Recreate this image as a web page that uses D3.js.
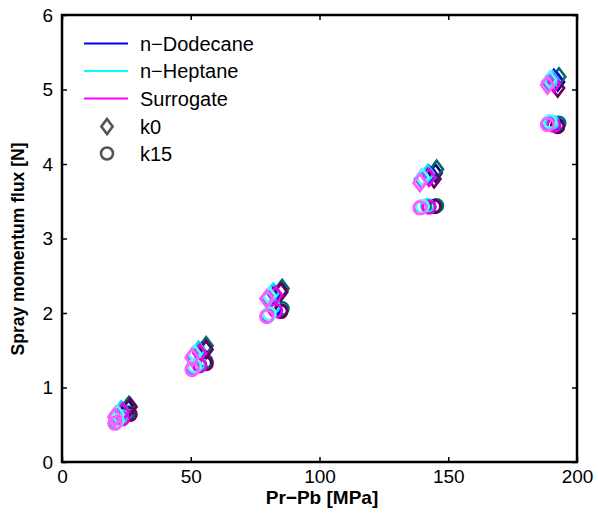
<!DOCTYPE html>
<html><head><meta charset="utf-8">
<script src="https://cdn.jsdelivr.net/npm/d3@7"></script>
<style>body{margin:0;background:#fff}svg{display:block;font-family:"Liberation Sans",Arial,sans-serif}</style>
</head><body><svg id="c" width="598" height="524"></svg>
<script>
// Fuels and shade levels (each level = one back-pressure condition)
const fuels = ["n-Dodecane", "n-Heptane", "Surrogate"];
const levels = ["dark", "mid", "light"];
const colors = {
  "n-Dodecane": {dark: "#000080", mid: "#0000ff", light: "#6f6fff"},
  "n-Heptane":  {dark: "#006a6a", mid: "#00e8e8", light: "#5ff5ff"},
  "Surrogate":  {dark: "#66005f", mid: "#ee00ee", light: "#ff5cff"}
};
// Pr-Pb [MPa] per level and fuel
const pressure = {
  dark:  {"n-Dodecane": [25.5, 55.5, 85.0, 145.0, 192.5], "n-Heptane": [26.0, 56.0, 85.5, 145.5, 193.0], "Surrogate": [26.5, 56.0, 85.0, 144.5, 192.5]},
  mid:   {"n-Dodecane": [23.5, 53.5, 82.5, 142.5, 191.0], "n-Heptane": [23.0, 53.0, 82.0, 142.0, 190.5], "Surrogate": [23.5, 53.5, 83.0, 142.5, 191.0]},
  light: {"n-Dodecane": [21.0, 51.0, 80.0, 139.5, 189.0], "n-Heptane": [21.5, 51.5, 80.5, 140.0, 189.5], "Surrogate": [20.5, 50.5, 79.5, 139.0, 188.5]}
};
// Spray momentum flux [N], model k0 (diamonds)
const fluxK0 = {
  dark:  {"n-Dodecane": [0.73, 1.53, 2.30, 3.88, 5.10], "n-Heptane": [0.76, 1.56, 2.33, 3.93, 5.17], "Surrogate": [0.74, 1.51, 2.28, 3.80, 5.02]},
  mid:   {"n-Dodecane": [0.68, 1.48, 2.25, 3.86, 5.15], "n-Heptane": [0.70, 1.50, 2.28, 3.87, 5.13], "Surrogate": [0.67, 1.46, 2.24, 3.82, 5.08]},
  light: {"n-Dodecane": [0.63, 1.43, 2.20, 3.80, 5.10], "n-Heptane": [0.64, 1.45, 2.23, 3.82, 5.13], "Surrogate": [0.60, 1.40, 2.19, 3.75, 5.06]}
};
// Spray momentum flux [N], model k15 (circles)
const fluxK15 = {
  dark:  {"n-Dodecane": [0.65, 1.33, 2.03, 3.43, 4.52], "n-Heptane": [0.66, 1.35, 2.06, 3.44, 4.55], "Surrogate": [0.64, 1.32, 2.02, 3.43, 4.50]},
  mid:   {"n-Dodecane": [0.60, 1.30, 2.06, 3.43, 4.54], "n-Heptane": [0.61, 1.32, 2.09, 3.44, 4.56], "Surrogate": [0.58, 1.29, 2.03, 3.42, 4.52]},
  light: {"n-Dodecane": [0.55, 1.27, 1.97, 3.42, 4.55], "n-Heptane": [0.56, 1.29, 1.99, 3.43, 4.57], "Surrogate": [0.52, 1.24, 1.95, 3.41, 4.53]}
};
const xTicks = [0, 50, 100, 150, 200];
const yTicks = [0, 1, 2, 3, 4, 5, 6];
const legendLines = ["n-Dodecane", "n-Heptane", "Surrogate"];
const legendMarkers = ["k0", "k15"];

const svg = d3.select("#c");
const L = 62, R = 577, T = 15, B = 462;
const x = d3.scaleLinear().domain([0, 200]).range([L, R]);
const y = d3.scaleLinear().domain([0, 6]).range([B, T]);

// points
const pts = [];
levels.forEach(lv => fuels.forEach(f => {
  pressure[lv][f].forEach((p, i) => {
    pts.push({m: "d", x: p, y: fluxK0[lv][f][i], c: colors[f][lv]});
    pts.push({m: "o", x: p, y: fluxK15[lv][f][i], c: colors[f][lv]});
  });
}));
const g = svg.append("g");
const diamond = (cx, cy, s) => `M${cx},${cy - s}L${cx + s * 0.75},${cy}L${cx},${cy + s}L${cx - s * 0.75},${cy}Z`;
pts.forEach(d => {
  if (d.m === "d") {
    g.append("path").attr("d", diamond(x(d.x), y(d.y), 8.5))
      .attr("fill", "none").attr("stroke", d.c).attr("stroke-width", 2.6);
  } else {
    g.append("circle").attr("cx", x(d.x)).attr("cy", y(d.y)).attr("r", 6.3)
      .attr("fill", "none").attr("stroke", d.c).attr("stroke-width", 2.6);
  }
});

// axes
svg.append("g").attr("transform", `translate(0,${B})`)
  .call(d3.axisBottom(x).tickValues(xTicks).tickSize(-5).tickPadding(8).tickFormat(d3.format("d")));
svg.append("g").attr("transform", `translate(${L},0)`)
  .call(d3.axisLeft(y).tickValues(yTicks).tickSize(-5).tickPadding(9).tickFormat(d3.format("d")));
svg.append("g").attr("transform", `translate(0,${T})`)
  .call(d3.axisTop(x).tickValues(xTicks).tickSize(-5).tickFormat(""));
svg.append("g").attr("transform", `translate(${R},0)`)
  .call(d3.axisRight(y).tickValues(yTicks).tickSize(-5).tickFormat(""));
svg.selectAll(".domain").remove();
svg.selectAll(".tick line").attr("stroke", "#000").attr("stroke-width", 1.5);
svg.selectAll(".tick text").attr("font-size", 19).attr("fill", "#000")
  .attr("font-family", "Liberation Sans, Arial, sans-serif");
svg.append("rect").attr("x", L).attr("y", T).attr("width", R - L).attr("height", B - T)
  .attr("fill", "none").attr("stroke", "#000").attr("stroke-width", 2.5);

// labels
svg.append("text").attr("x", 322).attr("y", 504).attr("text-anchor", "middle")
  .attr("font-size", 19).attr("font-weight", "bold").text("Pr\u2212Pb [MPa]");
svg.append("text").attr("transform", `translate(24,249) rotate(-90)`)
  .attr("text-anchor", "middle").attr("font-size", 17.5).attr("font-weight", "bold")
  .text("Spray momentum flux [N]");

// legend
const lg = svg.append("g");
const lineColors = ["#0000ff", "#00ffff", "#ff00ff"];
legendLines.forEach((t, i) => {
  const yy = 43.5 + i * 27.5;
  lg.append("line").attr("x1", 84).attr("x2", 128).attr("y1", yy).attr("y2", yy)
    .attr("stroke", lineColors[i]).attr("stroke-width", 2);
  lg.append("text").attr("x", 140).attr("y", yy + 7).attr("font-size", 20).text(t.replace("-", "\u2212"));
});
legendMarkers.forEach((t, i) => {
  const yy = 126.5 + i * 27;
  if (i === 0) lg.append("path").attr("d", diamond(107, yy, 7.5)).attr("fill", "none").attr("stroke", "#555").attr("stroke-width", 2.6);
  else lg.append("circle").attr("cx", 107).attr("cy", yy).attr("r", 6).attr("fill", "none").attr("stroke", "#555").attr("stroke-width", 2.6);
  lg.append("text").attr("x", 140).attr("y", yy + 7).attr("font-size", 20).text(t);
});
</script></body></html>
